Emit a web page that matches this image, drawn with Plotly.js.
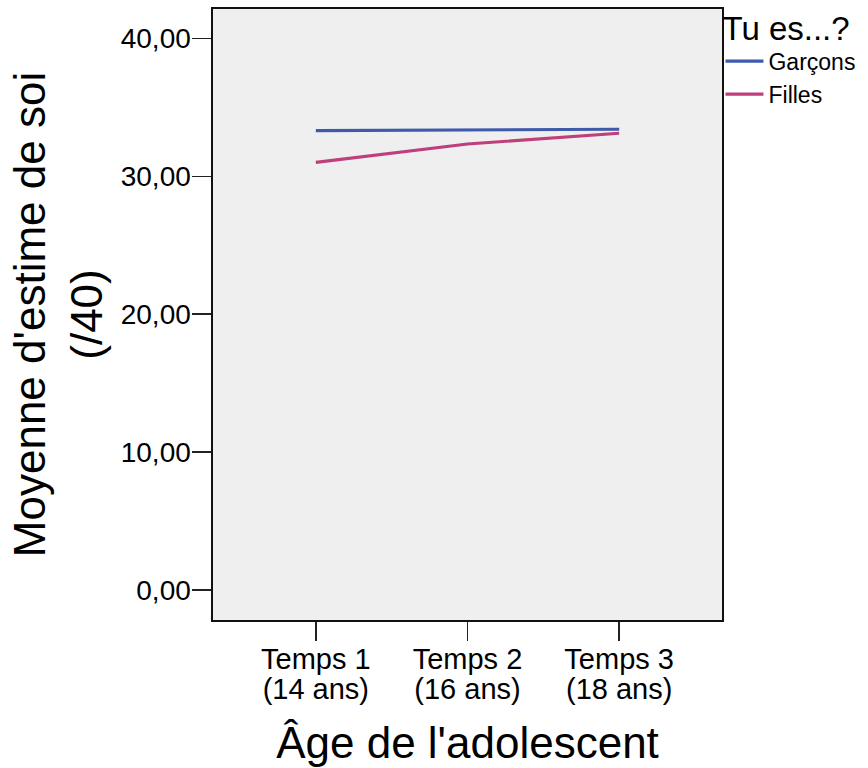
<!DOCTYPE html>
<html>
<head>
<meta charset="utf-8">
<script src="https://cdn.plot.ly/plotly-3.0.1.min.js"></script>
<style>html,body{margin:0;padding:0;background:#fff;}#chart{width:868px;height:768px;}</style>
</head>
<body>
<div id="chart"></div>
<script>
const timeLabels = ["Temps 1", "Temps 2", "Temps 3"];
const ageLabels = ["(14 ans)", "(16 ans)", "(18 ans)"];
const garcons = [33.31, 33.36, 33.41];
const filles = [31.01, 32.34, 33.12];
const seriesNames = ["Garçons", "Filles"];
const yTicks = [0, 10, 20, 30, 40];

const FONT = "Liberation Sans, Arial, sans-serif";

const traces = [
  {x: timeLabels, y: garcons, name: seriesNames[0], type: "scatter", mode: "lines",
   line: {color: "#3f5aaa", width: 3.2}},
  {x: timeLabels, y: filles, name: seriesNames[1], type: "scatter", mode: "lines",
   line: {color: "#bf3f7d", width: 3.2}},
  // invisible carrier so the second label row (ages) is drawn on its own axis
  {x: ageLabels, y: garcons, xaxis: "x2", type: "scatter", mode: "lines",
   line: {width: 0, color: "rgba(0,0,0,0)"}, showlegend: false, hoverinfo: "skip"}
];

const layout = {
  width: 868, height: 768,
  margin: {l: 213, r: 146, t: 9, b: 148, autoexpand: false},
  paper_bgcolor: "#ffffff",
  plot_bgcolor: "#efefef",
  separators: ", ",
  font: {family: FONT, color: "#000"},
  showlegend: true,
  legend: {
    x: 0.997, y: 1.02, xanchor: "left", yanchor: "top",
    bgcolor: "rgba(0,0,0,0)",
    title: {text: "Tu es...?", font: {size: 33, family: FONT}},
    font: {size: 23, family: FONT},
    tracegroupgap: 0,
    itemwidth: 38
  },
  xaxis: {
    type: "category",
    range: [-0.678, 2.678],
    showgrid: false, zeroline: false,
    showline: true, mirror: true, linecolor: "#111", linewidth: 1.6,
    ticks: "outside", ticklen: 19, tickwidth: 1.4, tickcolor: "#222",
    ticklabelstandoff: -6,
    tickfont: {size: 29, family: FONT},
    title: {text: "Âge de l'adolescent", font: {size: 44, family: FONT}, standoff: 53},
    automargin: false
  },
  xaxis2: {
    type: "category",
    overlaying: "x",
    side: "bottom",
    anchor: "y",
    range: [-0.678, 2.678],
    showgrid: false, zeroline: false, showline: false,
    ticks: "outside", ticklen: 19, tickcolor: "rgba(0,0,0,0)",
    ticklabelstandoff: 24,
    tickfont: {size: 29, family: FONT},
    automargin: false
  },
  yaxis: {
    range: [-2.18, 42.13],
    tickvals: yTicks,
    tickformat: ".2f",
    showgrid: false, zeroline: false,
    showline: true, mirror: true, linecolor: "#111", linewidth: 1.6,
    ticks: "outside", ticklen: 19, tickwidth: 1.4, tickcolor: "#222",
    ticklabelstandoff: -4,
    tickfont: {size: 28, family: FONT},
    title: {text: "Moyenne d'estime de soi<br>(/40)", font: {size: 44, family: FONT}, standoff: 4},
    automargin: false
  }
};

Plotly.newPlot("chart", traces, layout, {displayModeBar: false, staticPlot: true});
</script>
</body>
</html>
